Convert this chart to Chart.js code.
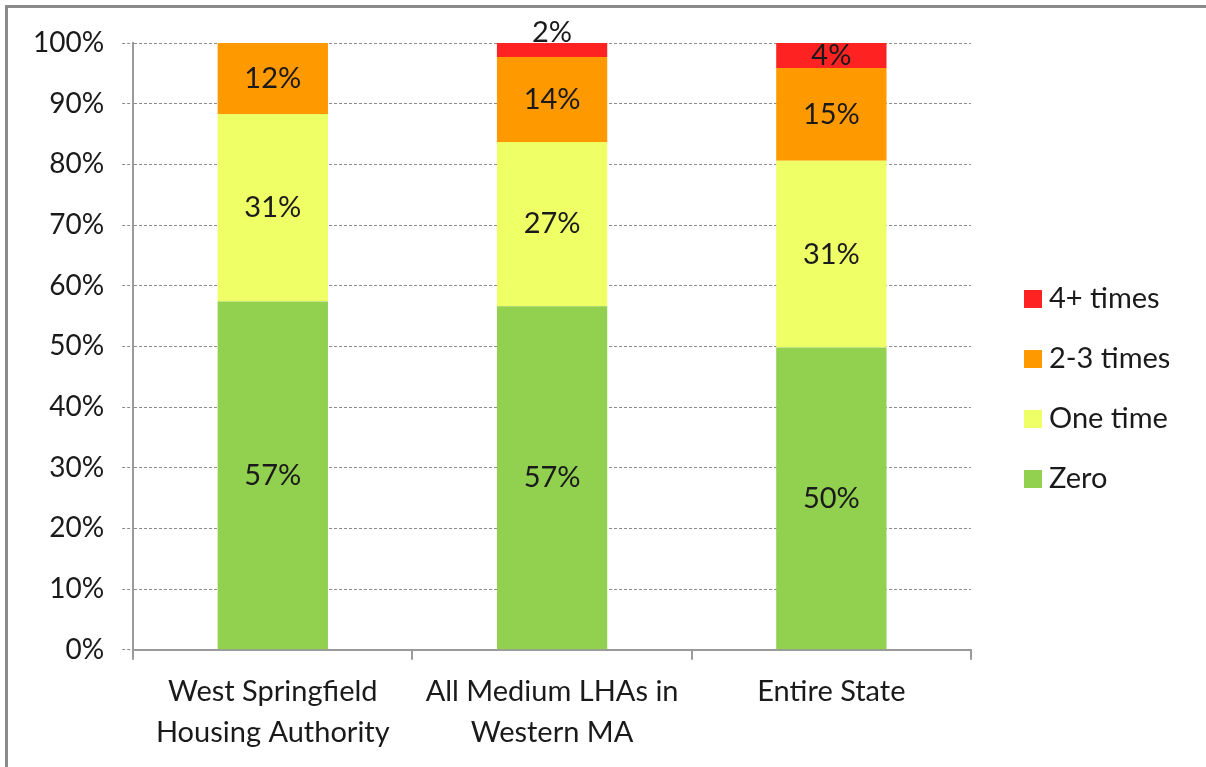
<!DOCTYPE html>
<html lang="en">
  <head>
    <meta charset="UTF-8" />
    <title>stacked percent chart</title>
    <script src="https://cdn.jsdelivr.net/npm/chart.js@4"></script>
    <style>
      html, body { margin: 0; padding: 0; background: #fff; }
      .frame {
        position: absolute; left: 5px; top: 5px; width: 1201px; height: 762px;
        border-left: 3px solid #8a8a8a; border-top: 3px solid #8a8a8a;
      }
      .chartbox { position: absolute; left: 0; top: 0; width: 1206px; height: 767px; }
    </style>
  </head>
  <body>
    <div class="frame"></div>
    <div class="chartbox">
      <canvas id="myChart"></canvas>
    </div>

    <script>
      //data
      const categories = [
        ["West Springfield", "Housing Authority"],
        ["All Medium LHAs in", "Western MA"],
        ["Entire State"],
      ];
      const zero = [57.4, 56.6, 49.8];
      const oneTime = [30.9, 27.1, 30.8];
      const twoThree = [11.7, 14.0, 15.3];
      const fourPlus = [0, 2.3, 4.1];
      const yTicks = [0, 10, 20, 30, 40, 50, 60, 70, 80, 90, 100];

      //style
      const fontFamily = "Lato";
      const fontSize = 29;
      const tickFontSize = 28;
      const textColor = "#1a1a1a";
      const axisColor = "#9a9a9a";
      const barthick = 0.395;

      Chart.defaults.font.family = fontFamily;
      Chart.defaults.font.size = fontSize;
      Chart.defaults.color = textColor;

      // values written inside each segment
      const segmentLabels = {
        id: "segmentLabels",
        afterDatasetsDraw(chart) {
          const c = chart.ctx;
          c.save();
          c.font = fontSize + "px " + fontFamily;
          c.fillStyle = textColor;
          c.textAlign = "center";
          c.textBaseline = "middle";
          chart.data.datasets.forEach((ds, i) => {
            const meta = chart.getDatasetMeta(i);
            meta.data.forEach((bar, j) => {
              const v = ds.data[j];
              if (!v) return;
              const h = bar.base - bar.y;
              const y = h < 20 ? bar.y - 10 : bar.y + h / 2;
              c.fillText(Math.round(v) + "%", bar.x, y);
            });
          });
          c.restore();
        },
      };

      // legend on the right, top series first
      const sideLegend = {
        id: "sideLegend",
        afterDraw(chart, args, opts) {
          const c = chart.ctx;
          const sets = chart.data.datasets.slice().reverse();
          c.save();
          c.font = fontSize + "px " + fontFamily;
          c.textAlign = "left";
          c.textBaseline = "middle";
          sets.forEach((ds, k) => {
            const y = opts.top + k * opts.step;
            c.fillStyle = ds.backgroundColor;
            c.fillRect(opts.x, y - opts.box / 2, opts.box, opts.box);
            c.fillStyle = textColor;
            c.fillText(ds.label, opts.x + opts.box + 7, y);
          });
          c.restore();
        },
      };

      const mk = (label, data, color) => ({
        label: label,
        data: data,
        backgroundColor: color,
        barPercentage: barthick,
        categoryPercentage: 1,
      });

      const config = {
        type: "bar",
        data: {
          labels: categories,
          datasets: [
            mk("Zero", zero, "#92d050"),
            mk("One time", oneTime, "#efff66"),
            mk("2-3 times", twoThree, "#ff9900"),
            mk("4+ times", fourPlus, "#ff2222"),
          ],
        },
        options: {
          responsive: true,
          maintainAspectRatio: false,
          animation: false,
          layout: {
            padding: { left: 15, top: 43, right: 235, bottom: 2 },
          },
          plugins: {
            legend: { display: false },
            tooltip: { enabled: false },
            sideLegend: { x: 1024, top: 299, step: 60, box: 18 },
          },
          scales: {
            x: {
              stacked: true,
              grid: {
                display: true,
                drawOnChartArea: false,
                offset: true,
                tickLength: 10,
                color: axisColor,
                lineWidth: 2,
              },
              border: { color: axisColor, width: 2 },
              ticks: {
                font: { size: fontSize, lineHeight: 1.4 },
                maxRotation: 0,
                padding: 12,
              },
            },
            y: {
              stacked: true,
              min: 0,
              max: 100,
              afterBuildTicks: (axis) => {
                axis.ticks = yTicks.map((v) => ({ value: v }));
              },
              ticks: {
                font: { size: tickFontSize },
                callback: (v) => v + "%",
                padding: 18,
              },
              grid: {
                color: "#8c8c8c",
                lineWidth: 1,
                tickLength: 11,
                tickBorderDash: [3, 2],
              },
              border: { color: axisColor, width: 2, dash: [3, 2] },
            },
          },
        },
        plugins: [segmentLabels, sideLegend],
      };

      const ctx = document.getElementById("myChart").getContext("2d");
      const myChart = new Chart(ctx, config);
    </script>
  </body>
</html>
